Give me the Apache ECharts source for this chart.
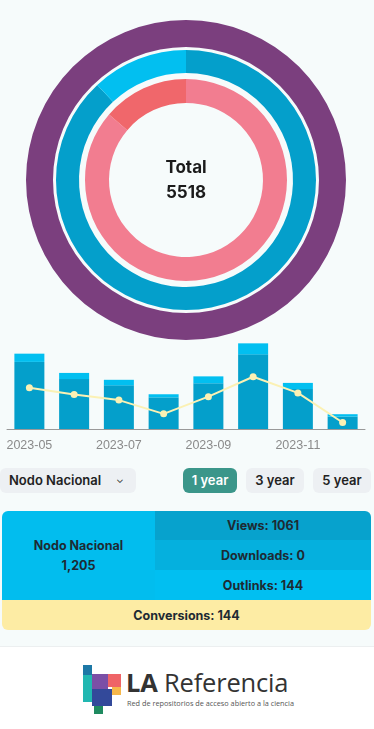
<!DOCTYPE html>
<html>
<head>
<meta charset="utf-8">
<script src="https://cdn.jsdelivr.net/npm/echarts@6/dist/echarts.min.js"></script>
<style>
  html, body { margin: 0; padding: 0; width: 374px; height: 729px; overflow: hidden; background: #f6fbfb; font-family: Inter, "Noto Sans", sans-serif; }
  #chart { position: absolute; left: 0; top: 0; width: 374px; height: 460px; }
  .btn { position: absolute; top: 468px; height: 25px; border-radius: 6px; background: #edf0f3; color: #222; font-size: 13px; font-weight: 600; line-height: 25px; text-align: center; }
  .btn.active { background: #3b968a; color: #fff; }
  #table { position: absolute; left: 2px; top: 511px; width: 369px; height: 119px; border-radius: 6px; overflow: hidden; font-weight: 700; font-size: 12.5px; color: #1e2a33; }
  .cell { position: absolute; display: flex; align-items: center; justify-content: center; text-align: center; }
  #sep { position: absolute; left: 0; top: 646px; width: 374px; height: 83px; background: #fff; border-top: 1px solid #eceff0; }
  .blk { position: absolute; }
</style>
</head>
<body>
<div id="chart"></div>

<div class="btn" style="left:0px;width:136px;text-align:left;padding-left:9px;box-sizing:border-box;">Nodo Nacional<span style="position:absolute;left:116px;top:-1px;font-size:10px;font-weight:400;">&#8964;</span></div>
<div class="btn active" style="left:183px;width:54px;">1 year</div>
<div class="btn" style="left:246px;width:58px;">3 year</div>
<div class="btn" style="left:313px;width:58px;">5 year</div>

<div id="table">
  <div class="cell" style="left:0;top:0;width:153px;height:89px;background:#02bdee;line-height:20px;">Nodo Nacional<br>1,205</div>
  <div class="cell" style="left:153px;top:0;width:216px;height:29px;background:#07a2cd;">Views: 1061</div>
  <div class="cell" style="left:153px;top:29px;width:216px;height:30px;background:#05b0de;">Downloads: 0</div>
  <div class="cell" style="left:153px;top:59px;width:216px;height:30px;background:#01bff1;">Outlinks: 144</div>
  <div class="cell" style="left:0;top:89px;width:369px;height:30px;background:#fdeca4;">Conversions: 144</div>
</div>

<div id="sep"></div>
<!-- logo -->
<div class="blk" style="left:83px;top:665px;width:9px;height:10px;background:#1d78a6;"></div>
<div class="blk" style="left:83px;top:675px;width:9px;height:27px;background:#21b7b1;"></div>
<div class="blk" style="left:92px;top:674px;width:16px;height:15px;background:#7b4fa6;"></div>
<div class="blk" style="left:108px;top:674px;width:13px;height:13px;background:#ef6467;"></div>
<div class="blk" style="left:92px;top:689px;width:20px;height:17px;background:#33499a;"></div>
<div class="blk" style="left:112px;top:687px;width:9px;height:8px;background:#f6b74a;"></div>
<div class="blk" style="left:94px;top:706px;width:9px;height:8px;background:#1f8a60;"></div>
<div style="position:absolute;left:126px;top:665px;font-family:'Open Sans',sans-serif;font-size:25.5px;color:#333;letter-spacing:-0.2px;white-space:nowrap;"><b>LA</b> Referencia</div>
<div style="position:absolute;left:127px;top:698px;font-family:'Open Sans',sans-serif;font-size:7.3px;color:#555;white-space:nowrap;">Red de repositorios de acceso abierto a la ciencia</div>

<script>
// ---- data ----
const totalValue = 5518;
const outerRingNames = ['Total'];
const outerRingValues = [5518];
const middleRingNames = ['Views', 'Downloads', 'Outlinks'];
const middleRingValues = [1061, 0, 144];
const innerRingNames = ['Other', 'Conversions'];
const innerRingValues = [900, 144];

const months = ['2023-05', '2023-06', '2023-07', '2023-08', '2023-09', '2023-10', '2023-11', '2023-12'];
const monthlyViews = [195, 145, 127, 92, 133, 217, 116, 36];
const monthlyOutlinks = [24, 18, 16, 9, 20, 32, 18, 7];
const monthlyLine = [120, 100, 84, 44, 94, 152, 105, 19];

const outerColors = ['#7b3f7e'];
const middleColors = ['#049fcb', '#05b0de', '#02bff0'];
const innerColors = ['#f27d90', '#f0676b'];

const chart = echarts.init(document.getElementById('chart'), null, { renderer: 'canvas' });

function ring(names, values, colors) {
  return names.map((n, i) => ({ name: n, value: values[i], itemStyle: { color: colors[i] } }));
}

const pieBase = {
  type: 'pie', center: [186, 180], startAngle: 90, clockwise: true,
  silent: true, label: { show: false }, labelLine: { show: false }
};

chart.setOption({
  animation: false,
  backgroundColor: 'transparent',
  title: {
    text: 'Total\n' + totalValue,
    left: 186, top: 155, padding: 0, textAlign: 'center',
    textStyle: { fontFamily: 'Inter, Noto Sans, sans-serif', fontWeight: 700, fontSize: 17, lineHeight: 25, color: '#1b1b1b' }
  },
  grid: { left: 7, right: 9, top: 343, height: 86 },
  xAxis: {
    type: 'category', data: months,
    axisLine: { lineStyle: { color: '#999', width: 1 } },
    axisTick: { length: 5, lineStyle: { color: '#999' } },
    axisLabel: { interval: 1, color: '#8a8a8a', fontSize: 12.5, margin: 10, fontFamily: 'Liberation Sans, sans-serif' }
  },
  yAxis: { type: 'value', min: 0, max: 250, show: false, splitLine: { show: false } },
  series: [
    Object.assign({}, pieBase, { radius: [133, 160], data: ring(outerRingNames, outerRingValues, outerColors) }),
    Object.assign({}, pieBase, { radius: [107, 130], data: ring(middleRingNames, middleRingValues, middleColors) }),
    Object.assign({}, pieBase, { radius: [77, 101], data: ring(innerRingNames, innerRingValues, innerColors) }),
    {
      type: 'bar', stack: 'a', data: monthlyViews, barWidth: 30,
      itemStyle: { color: '#049fcb' }
    },
    {
      type: 'bar', stack: 'a', data: monthlyOutlinks, barWidth: 30,
      itemStyle: { color: '#02bff0' }
    },
    {
      type: 'line', data: monthlyLine, symbol: 'circle', symbolSize: 7,
      lineStyle: { color: '#fbf1b4', width: 2 },
      itemStyle: { color: '#fbf1b4' }
    }
  ]
});
</script>
</body>
</html>
